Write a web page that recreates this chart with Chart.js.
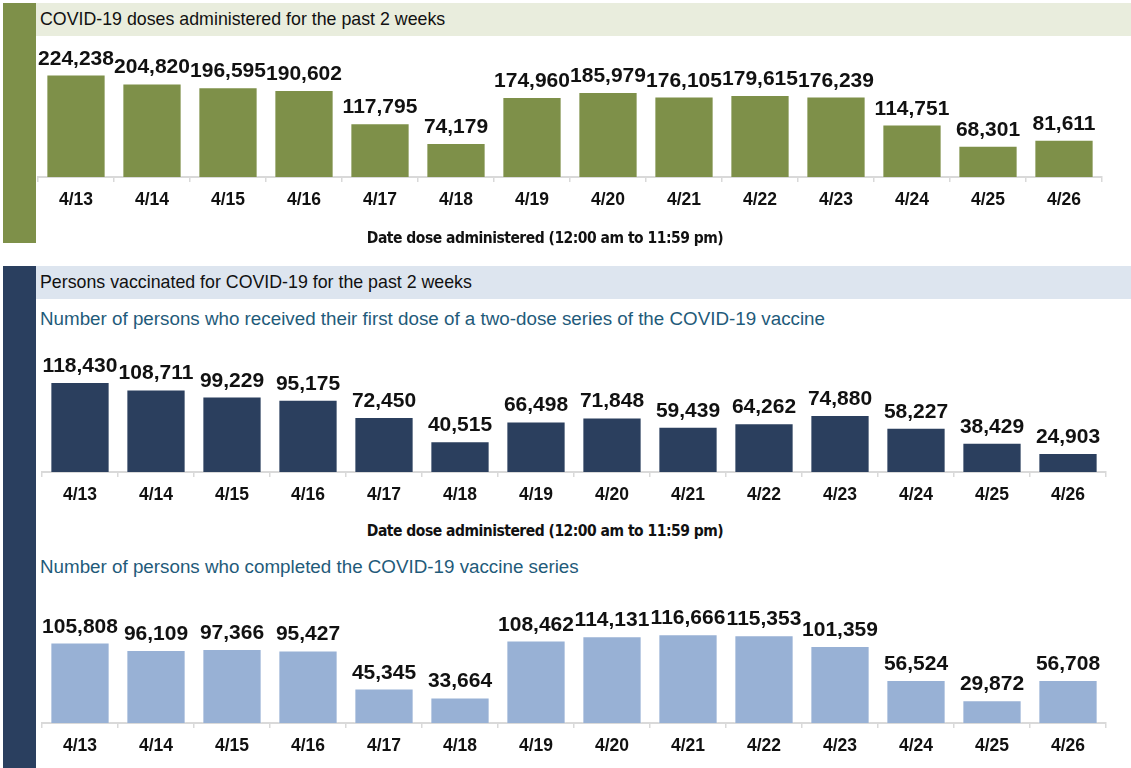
<!DOCTYPE html>
<html>
<head>
<meta charset="utf-8">
<script src="https://cdn.jsdelivr.net/npm/chart.js@4/dist/chart.umd.min.js"></script>
<style>
  body { margin: 0; background: #fff; font-family: "Liberation Sans", Arial, sans-serif; }
  #page { position: relative; width: 1131px; height: 768px; overflow: hidden; background: #fff; }
  .strip { position: absolute; left: 3px; width: 33px; }
  .bar { position: absolute; left: 36px; right: 0; font-size: 17.8px; color: #111; line-height: 33px; padding-left: 4px; box-sizing: border-box; }
  .sub { position: absolute; left: 40px; font-size: 18.8px; color: #1f5b7a; line-height: 22px; }
  .axis-title { position: absolute; width: 400px; text-align: center; font-family: "DejaVu Sans", sans-serif; font-stretch: condensed; font-weight: bold; font-size: 15.5px; letter-spacing: -0.5px; color: #111; }
  .box { position: absolute; left: 0; width: 1131px; }
</style>
</head>
<body>
<div id="page">
  <div class="strip" style="top:3px;height:240px;background:#7e9049;"></div>
  <div class="bar" style="top:3px;height:33px;background:#e9eddd;">COVID-19 doses administered for the past 2 weeks</div>
  <div class="box" style="top:36px;height:214px;"><canvas id="dosesChart"></canvas></div>
  <div class="axis-title" style="left:345px;top:229px;">Date dose administered (12:00 am to 11:59 pm)</div>

  <div class="strip" style="top:266px;height:502px;background:#2a3f5f;"></div>
  <div class="bar" style="top:266px;height:33px;background:#dde5ef;">Persons vaccinated for COVID-19 for the past 2 weeks</div>
  <div class="sub" style="top:308px;">Number of persons who received their first dose of a two-dose series of the COVID-19 vaccine</div>
  <div class="box" style="top:330px;height:180px;"><canvas id="firstChart"></canvas></div>
  <div class="axis-title" style="left:345px;top:522px;">Date dose administered (12:00 am to 11:59 pm)</div>
  <div class="sub" style="top:556px;">Number of persons who completed the COVID-19 vaccine series</div>
  <div class="box" style="top:590px;height:178px;"><canvas id="completeChart"></canvas></div>
</div>
<script>
const dates = ['4/13', '4/14', '4/15', '4/16', '4/17', '4/18', '4/19', '4/20', '4/21', '4/22', '4/23', '4/24', '4/25', '4/26'];
const dosesAdministered = [224238, 204820, 196595, 190602, 117795, 74179, 174960, 185979, 176105, 179615, 176239, 114751, 68301, 81611];
const firstDose = [118430, 108711, 99229, 95175, 72450, 40515, 66498, 71848, 59439, 64262, 74880, 58227, 38429, 24903];
const completedSeries = [105808, 96109, 97366, 95427, 45345, 33664, 108462, 114131, 116666, 115353, 101359, 56524, 29872, 56708];

// value labels above each bar
const valueLabels = {
    id: 'valueLabels',
    afterDatasetsDraw(chart) {
        const ctx = chart.ctx;
        const meta = chart.getDatasetMeta(0);
        ctx.save();
        ctx.font = 'bold 21px "Liberation Sans", Arial, sans-serif';
        ctx.fillStyle = '#111';
        ctx.textAlign = 'center';
        ctx.textBaseline = 'alphabetic';
        meta.data.forEach((bar, i) => {
            const v = chart.data.datasets[0].data[i];
            ctx.fillText(v.toLocaleString('en-US'), bar.x, bar.y - 10);
        });
        ctx.restore();
    }
};

function makeChart(id, values, color, opts) {
    const ctx = document.getElementById(id).getContext('2d');
    return new Chart(ctx, {
        type: 'bar',
        data: {
            labels: dates,
            datasets: [{
                data: values,
                backgroundColor: color,
                borderColor: 'rgba(255,255,255,0.35)',
                borderWidth: 1,
                barPercentage: 0.78,
                categoryPercentage: 1
            }]
        },
        options: {
            responsive: true,
            maintainAspectRatio: false,
            animation: false,
            layout: { padding: { left: opts.left, right: 1131 - opts.right, top: opts.top, bottom: 0 } },
            plugins: { legend: { display: false }, tooltip: { enabled: false } },
            scales: {
                x: {
                    grid: { offset: true, drawOnChartArea: false, tickLength: 5, color: '#d9d9d9', lineWidth: 1.5 },
                    border: { color: '#d9d9d9', width: 2 },
                    ticks: { color: '#111', padding: 8, font: { family: '"Liberation Sans", Arial, sans-serif', size: 17.5, weight: 'bold' } },
                    afterFit: (scale) => { scale.height = opts.axisHeight; }
                },
                y: { display: false, min: 0, max: opts.max }
            }
        },
        plugins: [valueLabels]
    });
}

makeChart('dosesChart', dosesAdministered, '#7e9049', { left: 38, right: 1102, top: 4, axisHeight: 73, max: 300000 });
makeChart('firstChart', firstDose, '#2b3f5e', { left: 42, right: 1106, top: 28, axisHeight: 38, max: 150000 });
makeChart('completeChart', completedSeries, '#98b1d5', { left: 42, right: 1106, top: 19, axisHeight: 45, max: 150000 });
</script>
</body>
</html>
